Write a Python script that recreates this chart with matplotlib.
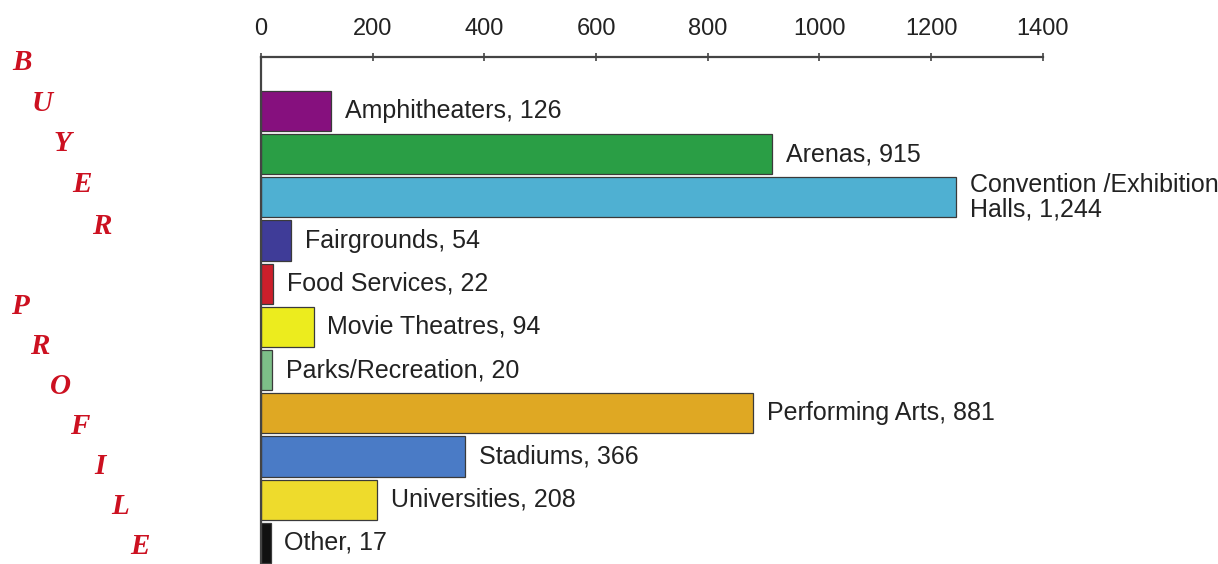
import matplotlib.pyplot as plt
import numpy as np

# Data
categories = ['Amphitheaters', 'Arenas', 'Convention /Exhibition\nHalls',
              'Fairgrounds', 'Food Services', 'Movie Theatres',
              'Parks/Recreation', 'Performing Arts', 'Stadiums',
              'Universities', 'Other']
counts = [126, 915, 1244, 54, 22, 94, 20, 881, 366, 208, 17]
count_labels = ['126', '915', '1,244', '54', '22', '94', '20', '881',
                '366', '208', '17']
xticks = [0, 200, 400, 600, 800, 1000, 1200, 1400]

colors = ['#86107e', '#2a9e45', '#4fb0d2', '#3f3c98', '#cc1f2b', '#ecec1e',
          '#7dbf88', '#dfa823', '#4a7bc6', '#eedb2c', '#111111']

plt.rcParams['font.family'] = ['Liberation Sans', 'DejaVu Sans']

fig = plt.figure(figsize=(12.18, 5.64), dpi=100)
ax = fig.add_axes([0.2143, 0.0, 0.6418, 0.899])

y = np.arange(len(categories))
ax.barh(y, counts, height=0.93, color=colors, edgecolor='#3a3a3a',
        linewidth=0.9, zorder=2)

for yi, name, val, lab in zip(y, categories, counts, count_labels):
    ax.annotate(f'{name}, {lab}', xy=(val, yi), xytext=(10, 0),
                textcoords='offset points', ha='left', va='center',
                fontsize=18, color='#222222', linespacing=1.05,
                annotation_clip=False)

ax.set_xlim(0, 1400)
ax.set_ylim(10.49, -1.25)
ax.xaxis.tick_top()
ax.set_xticks(xticks)
ax.set_xticklabels([str(t) for t in xticks])
ax.tick_params(axis='x', direction='inout', length=6, width=1.2,
               colors='#444444', labelcolor='#222222', labelsize=17, pad=9)
ax.set_yticks([])
for side in ['right', 'bottom']:
    ax.spines[side].set_visible(False)
ax.spines['top'].set_linewidth(1.6)
ax.spines['top'].set_color('#444444')
ax.spines['left'].set_linewidth(1.6)
ax.spines['left'].set_color('#444444')

# "BUYER PROFILE" staircase down the left side
for i, ch in enumerate('BUYER'):
    fig.text((22 + 20 * i) / 1218, 1 - (62 + 41 * i) / 564, ch,
             ha='center', va='center', fontsize=21, color='#cc1020',
             family='Liberation Serif', weight='bold', style='italic')
for i, ch in enumerate('PROFILE'):
    fig.text((20 + 20 * i) / 1218, 1 - (306 + 40 * i) / 564, ch,
             ha='center', va='center', fontsize=21, color='#cc1020',
             family='Liberation Serif', weight='bold', style='italic')

fig.savefig('out.png', dpi=100)
